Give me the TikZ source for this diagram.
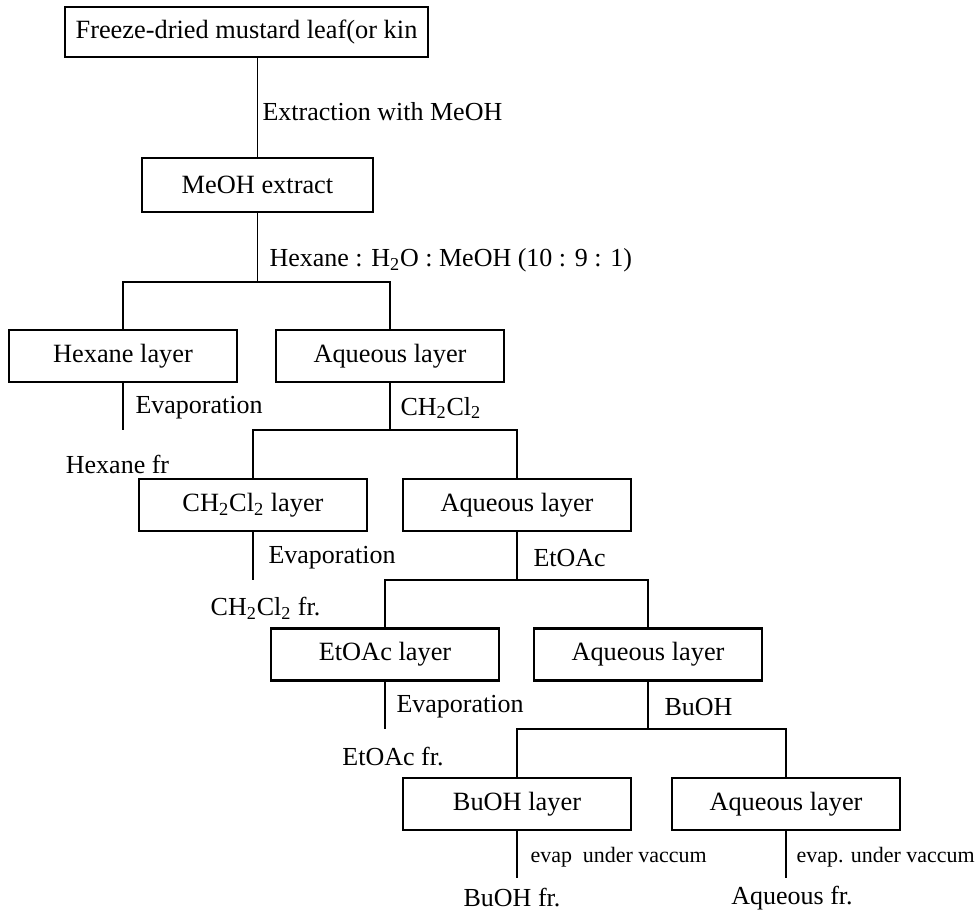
\documentclass[tikz,border=0pt]{standalone}
\usepackage{fontspec}
\setmainfont{Liberation Serif}
\tikzset{
  layer/.style={draw, line width=1.4pt, minimum width=4.56cm, minimum height=1.04cm, inner sep=1pt, font=\fontsize{15}{18}\selectfont},
  cond/.style={anchor=west, inner sep=0pt, font=\fontsize{14.8}{17}\selectfont},
  condsm/.style={anchor=west, inner sep=0pt, font=\fontsize{12.5}{15}\selectfont},
  frac/.style={inner sep=0pt, font=\fontsize{14.8}{17}\selectfont},
}
\newcommand\chcl{CH\textsubscript{2}Cl\textsubscript{2}}
\begin{document}
\begin{tikzpicture}[line width=0.6pt]
        \useasboundingbox (0,0) rectangle (19.5,-18.38);

        \path
        (4.93,-0.64) node[layer, minimum width=7.26cm, minimum height=1.0cm] (leaf) {Freeze-dried mustard leaf(or kin}
        (5.15,-3.7) node[layer, minimum width=4.62cm, minimum height=1.08cm] (meoh) {MeOH extract}
        ;

        % partition steps
        \path
        (2.46,-7.12) node[layer] (hex) {Hexane layer}
        (7.8,-7.12) node[layer] (aq1) {Aqueous layer}
        (5.06,-10.1) node[layer] (dcm) {\chcl{} layer}
        (10.34,-10.1) node[layer] (aq2) {Aqueous layer}
        (7.7,-13.09) node[layer] (eta) {EtOAc layer}
        (12.96,-13.09) node[layer] (aq3) {Aqueous layer}
        (10.34,-16.08) node[layer] (buoh) {BuOH layer}
        (15.72,-16.08) node[layer] (aq4) {Aqueous layer}
        ;

        \coordinate (bar1) at (meoh.south |- 0,-5.64);
        \coordinate (bar2) at (aq1.south |- 0,-8.6);
        \coordinate (bar3) at (aq2.south |- 0,-11.6);
        \coordinate (bar4) at (aq3.south |- 0,-14.58);
        \coordinate (end4) at (0,-17.56);

        \draw (meoh.north |- leaf.south) -- (meoh.north);
        \draw (meoh) -- (bar1);
        \draw (hex.north) |- (bar1) -| (aq1.north);
        \draw (aq1) -- (bar2);
        \draw (dcm.north) |- (bar2) -| (aq2.north);
        \draw (aq2) -- (bar3);
        \draw (eta.north) |- (bar3) -| (aq3.north);
        \draw (aq3) -- (bar4);
        \draw (buoh.north) |- (bar4) -| (aq4.north);

        % side conditions
        \path
        (5.24,-2.24) node[cond] (c0) {Extraction with MeOH}
        (5.38,-5.2) node[cond] (c1) {Hexane : H\textsubscript{2}O : MeOH (10 : 9 : 1)}
        (2.7,-8.16) node[cond] (e1) {Evaporation}
        (8.0,-8.16) node[cond] (c2) {\chcl}
        (5.36,-11.16) node[cond] (e2) {Evaporation}
        (10.66,-11.16) node[cond] (c3) {EtOAc}
        (7.92,-14.14) node[cond] (e3) {Evaporation}
        (13.28,-14.14) node[cond] (c4) {BuOH}
        (10.6,-17.14) node[condsm] (e4) {evap~ under vaccum}
        (15.92,-17.14) node[condsm] (e5) {evap. under vaccum}
        ;

        % fractions
        \path
        (2.35,-9.28) node[frac] (hexfr) {Hexane fr}
        (5.31,-12.16) node[frac] (dcmfr) {\chcl{} fr.}
        (7.86,-15.14) node[frac] (etafr) {EtOAc fr.}
        (10.24,-17.96) node[frac] (bufr) {BuOH fr.}
        (15.84,-17.96) node[frac] (aqfr) {Aqueous fr.}
        ;

        \draw (hex) -- (hex.south |- bar2);
        \draw (dcm) -- (dcm.south |- bar3);
        \draw (eta) -- (eta.south |- bar4);
        \draw (buoh) -- (buoh.south |- end4);
        \draw (aq4) -- (aq4.south |- end4);
\end{tikzpicture}
\end{document}
